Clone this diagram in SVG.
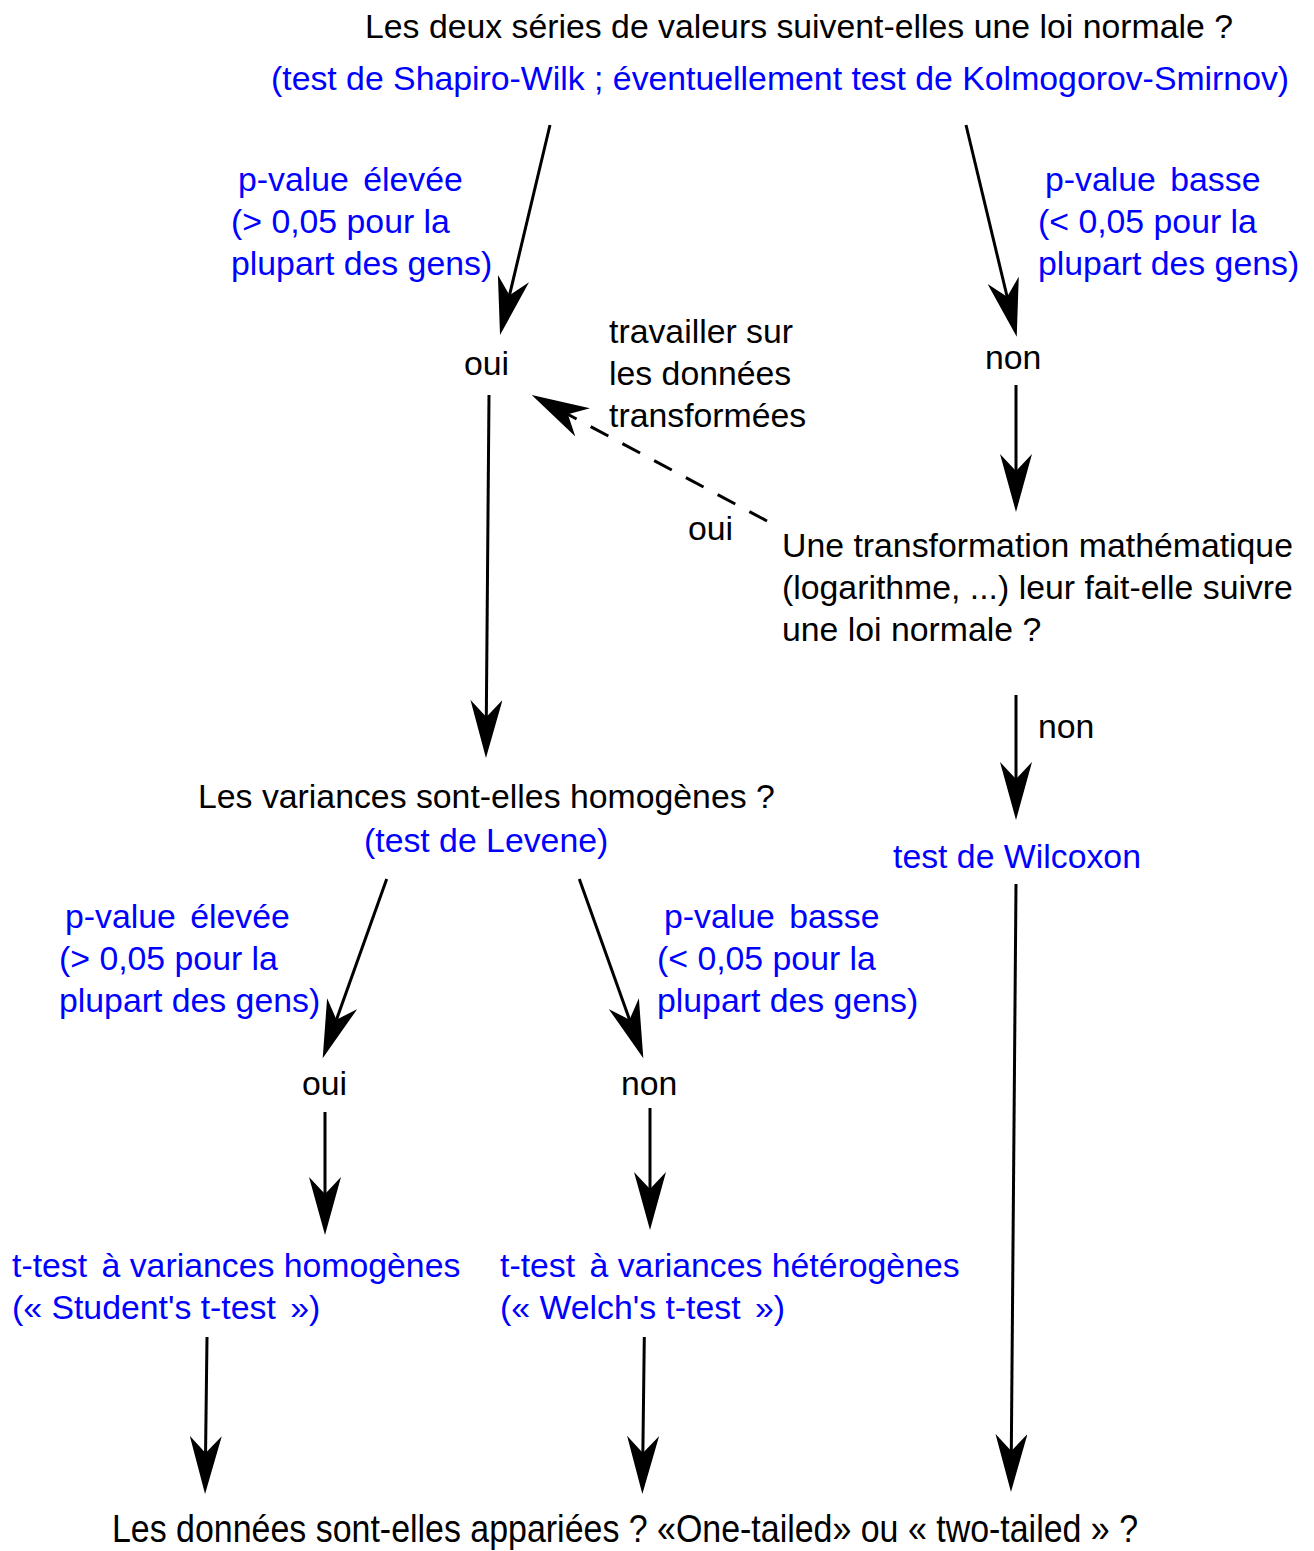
<svg xmlns="http://www.w3.org/2000/svg" width="1314" height="1551" viewBox="0 0 1314 1551">
<defs>
<style>
text{font-family:"Liberation Sans",Arial,sans-serif;font-size:33.8px;fill:#000}
.b{fill:#0000ff}
.c{stroke:#000;stroke-width:3;fill:none;marker-end:url(#ah)}
.d{stroke-dasharray:20,16}
</style>
<marker id="ah" viewBox="0 0 58 32" markerWidth="58" markerHeight="32" refX="30" refY="16" orient="auto" markerUnits="userSpaceOnUse">
<path d="M0,0 L58,16 L0,32 L17,16 Z" fill="#000"/>
</marker>
</defs>
<rect width="1314" height="1551" fill="#fff"/>
<g id="connectors">
<line class="c" x1="550" y1="125" x2="506.5" y2="307.8"/>
<line class="c" x1="966" y1="125" x2="1010.2" y2="309.5"/>
<line class="c" x1="1016" y1="385" x2="1016" y2="484"/>
<line class="c" x1="489" y1="395" x2="486.2" y2="730"/>
<line class="c d" x1="767" y1="521" x2="556.4" y2="408.2"/>
<line class="c" x1="1016" y1="695" x2="1016" y2="792"/>
<line class="c" x1="386.7" y1="879" x2="332.1" y2="1031.9"/>
<line class="c" x1="579.3" y1="879" x2="633.9" y2="1031.9"/>
<line class="c" x1="325" y1="1112" x2="325" y2="1207"/>
<line class="c" x1="650" y1="1108" x2="650" y2="1202"/>
<line class="c" x1="1016" y1="884" x2="1011.2" y2="1464"/>
<line class="c" x1="207" y1="1337" x2="205.4" y2="1466"/>
<line class="c" x1="644.3" y1="1337" x2="642.7" y2="1466"/>
</g>
<g id="q1">
<text x="365" y="38">Les deux séries de valeurs suivent-elles une loi normale ?</text>
<text class="b" x="271" y="90">(test de Shapiro-Wilk ; éventuellement test de Kolmogorov-Smirnov)</text>
</g>
<g id="lbl-high1">
<text class="b" x="238" y="191">p-value<tspan dx="5"> élevée</tspan></text>
<text class="b" x="231" y="233">(&gt; 0,05 pour la</text>
<text class="b" x="231" y="275">plupart des gens)</text>
</g>
<g id="lbl-low1">
<text class="b" x="1045" y="191">p-value<tspan dx="5"> basse</tspan></text>
<text class="b" x="1038" y="233">(&lt; 0,05 pour la</text>
<text class="b" x="1038" y="275">plupart des gens)</text>
</g>
<g id="oui1"><text x="464" y="375">oui</text></g>
<g id="non1"><text x="985" y="369">non</text></g>
<g id="lbl-transf">
<text x="609" y="343">travailler sur</text>
<text x="609" y="385">les données</text>
<text x="609" y="427">transformées</text>
</g>
<g id="oui2"><text x="688" y="540">oui</text></g>
<g id="q-transf">
<text x="782" y="557">Une transformation mathématique</text>
<text x="782" y="599">(logarithme, ...) leur fait-elle suivre</text>
<text x="782" y="641">une loi normale ?</text>
</g>
<g id="non2"><text x="1038" y="738">non</text></g>
<g id="q2">
<text x="198" y="808">Les variances sont-elles homogènes ?</text>
<text class="b" x="364" y="852">(test de Levene)</text>
</g>
<g id="wilcoxon"><text class="b" x="893" y="868">test de Wilcoxon</text></g>
<g id="lbl-high2">
<text class="b" x="65" y="928">p-value<tspan dx="5"> élevée</tspan></text>
<text class="b" x="59" y="970">(&gt; 0,05 pour la</text>
<text class="b" x="59" y="1012">plupart des gens)</text>
</g>
<g id="lbl-low2">
<text class="b" x="664" y="928">p-value<tspan dx="5"> basse</tspan></text>
<text class="b" x="657" y="970">(&lt; 0,05 pour la</text>
<text class="b" x="657" y="1012">plupart des gens)</text>
</g>
<g id="oui3"><text x="302" y="1095">oui</text></g>
<g id="non3"><text x="621" y="1095">non</text></g>
<g id="student">
<text class="b" x="12" y="1277">t-test<tspan dx="5"> à variances homogènes</tspan></text>
<text class="b" x="12" y="1319">(« Student's t-test<tspan dx="5"> »)</tspan></text>
</g>
<g id="welch">
<text class="b" x="500" y="1277">t-test<tspan dx="5"> à variances hétérogènes</tspan></text>
<text class="b" x="500" y="1319">(« Welch's t-test<tspan dx="5"> »)</tspan></text>
</g>
<g id="final">
<text x="112" y="1542" style="font-family:'Liberation Sans Narrow','Liberation Sans',Arial,sans-serif;font-size:39px" textLength="1026" lengthAdjust="spacingAndGlyphs">Les données sont-elles appariées ? «One-tailed» ou « two-tailed » ?</text>
</g>
</svg>
